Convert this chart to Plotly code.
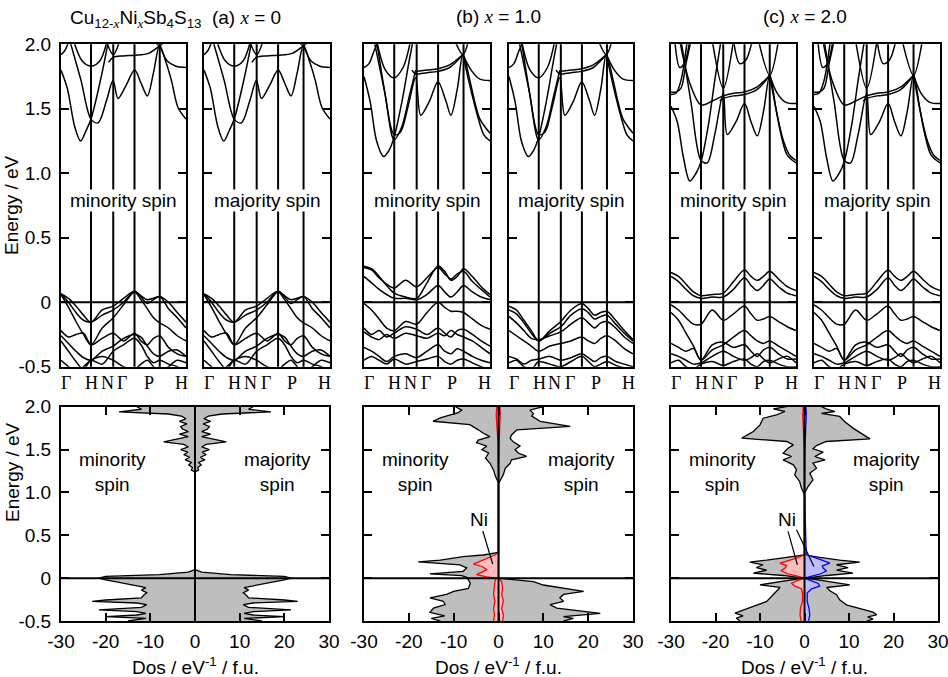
import plotly.graph_objects as go

W, H = 948, 677

# ---------------- band-structure data ----------------
K_SYM = [0.24, 0.418, 0.588, 0.79]                 # interior high-symmetry points
K_LABELS = ["Γ", "H", "N", "Γ", "P", "H"]
K_LABEL_POS = [0.04, 0.245, 0.37, 0.49, 0.70, 0.96]
K_V = [0, 0.06, 0.12, 0.18, 0.24, 0.33, 0.418, 0.5, 0.588, 0.64, 0.69, 0.74, 0.79, 0.86, 0.93, 1.0]

X0_CB = [
    ([0, 0.05, 0.11, 0.157, 0.2, 0.24, 0.32, 0.38], [1.80, 1.66, 1.36, 1.25, 1.33, 1.42, 1.74, 2.03]),
    ([0.07, 0.16, 0.24, 0.296, 0.363, 0.416, 0.456, 0.52, 0.589, 0.64, 0.691, 0.74, 0.789, 0.84, 0.883, 0.936, 1.0],
     [2.03, 1.72, 1.42, 1.39, 1.56, 1.72, 1.58, 1.68, 1.80, 1.70, 1.60, 1.78, 1.99, 1.86, 1.72, 1.51, 1.42]),
    ([0.1, 0.17, 0.24, 0.31, 0.37], [2.03, 1.87, 1.83, 1.87, 2.03]),
    ([0.38, 0.418, 0.5, 0.589, 0.7, 0.79], [1.86, 1.90, 1.91, 1.915, 1.93, 1.99]),
    ([0.79, 0.85, 0.92, 1.0], [1.99, 1.87, 1.83, 1.82]),
    ([0, 0.03, 0.065], [1.92, 1.95, 2.03]),
    ([0.36, 0.418, 0.47], [2.03, 1.92, 2.03]),
    ([0.74, 0.79, 0.83], [2.03, 1.99, 2.03]),
]
X0_VB = [
    [0.065, 0.03, -0.03, -0.10, -0.155, -0.06, -0.03, 0.03, 0.085, 0.05, 0.02, 0.03, 0.045, 0.0, -0.08, -0.155],
    [0.065, 0.0, -0.08, -0.14, -0.155, -0.10, -0.06, 0.0, 0.085, 0.04, -0.01, 0.02, 0.045, -0.05, -0.12, -0.20],
    [0.06, -0.04, -0.15, -0.25, -0.33, -0.20, -0.12, -0.02, 0.08, 0.02, -0.05, -0.12, -0.16, -0.20, -0.26, -0.30],
    [-0.22, -0.27, -0.25, -0.24, -0.33, -0.28, -0.24, -0.30, -0.24, -0.30, -0.33, -0.28, -0.26, -0.35, -0.40, -0.42],
    [-0.26, -0.32, -0.38, -0.43, -0.45, -0.38, -0.34, -0.28, -0.25, -0.27, -0.34, -0.40, -0.42, -0.38, -0.37, -0.42],
    [-0.45, -0.50, -0.55, -0.50, -0.45, -0.42, -0.45, -0.50, -0.52, -0.48, -0.45, -0.50, -0.55, -0.50, -0.45, -0.47],
    [-0.30, -0.38, -0.46, -0.52, -0.45, -0.48, -0.38, -0.33, -0.28, -0.33, -0.42, -0.47, -0.45, -0.48, -0.50, -0.55],
]

X1_CB = [
    ([0, 0.05, 0.1, 0.155, 0.2, 0.239, 0.3, 0.36, 0.39], [1.75, 1.55, 1.25, 1.13, 1.18, 1.28, 1.55, 1.88, 2.03]),
    ([0.08, 0.16, 0.239, 0.29, 0.35, 0.41, 0.45, 0.52, 0.587, 0.65, 0.69, 0.74, 0.785, 0.84, 0.88, 0.92, 1.0],
     [2.03, 1.65, 1.30, 1.32, 1.52, 1.74, 1.45, 1.56, 1.71, 1.56, 1.45, 1.65, 1.92, 1.72, 1.55, 1.42, 1.31]),
    ([0.1, 0.17, 0.239, 0.3, 0.36, 0.41], [2.03, 1.60, 1.26, 1.36, 1.60, 1.80]),
    ([0.785, 0.84, 0.9, 0.95, 1.0], [1.92, 1.68, 1.45, 1.30, 1.25]),
    ([0.1, 0.17, 0.239, 0.31, 0.37], [2.03, 1.80, 1.74, 1.82, 2.03]),
    ([0.38, 0.41, 0.5, 0.587, 0.68, 0.785], [1.80, 1.77, 1.78, 1.79, 1.82, 1.92]),
    ([0.41, 0.5, 0.587, 0.68, 0.785], [1.79, 1.80, 1.81, 1.84, 1.92]),
    ([0.785, 0.85, 0.92, 1.0], [1.92, 1.80, 1.73, 1.72]),
    ([0, 0.04, 0.08, 0.12], [1.82, 1.85, 1.95, 2.03]),
    ([0.72, 0.785, 0.83], [2.03, 1.92, 2.03]),
]
X1_VB_MIN = [
    [0.28, 0.26, 0.20, 0.13, 0.07, 0.04, 0.03, 0.15, 0.28, 0.24, 0.17, 0.20, 0.26, 0.20, 0.12, 0.06],
    [0.27, 0.25, 0.19, 0.14, 0.11, 0.17, 0.12, 0.19, 0.27, 0.22, 0.18, 0.22, 0.24, 0.16, 0.10, 0.04],
    [0.20, 0.15, 0.10, 0.06, 0.03, 0.03, 0.02, 0.06, 0.13, 0.08, 0.04, 0.08, 0.13, 0.08, 0.04, 0.02],
    [-0.01, -0.06, -0.13, -0.20, -0.22, -0.15, -0.17, -0.08, 0.0, -0.04, -0.07, -0.07, -0.08, -0.13, -0.18, -0.21],
    [-0.20, -0.25, -0.22, -0.27, -0.24, -0.19, -0.21, -0.25, -0.20, -0.24, -0.27, -0.22, -0.21, -0.25, -0.30, -0.34],
    [-0.23, -0.27, -0.29, -0.25, -0.28, -0.24, -0.26, -0.28, -0.24, -0.26, -0.22, -0.25, -0.27, -0.30, -0.35, -0.40],
    [-0.35, -0.38, -0.42, -0.46, -0.42, -0.40, -0.43, -0.38, -0.33, -0.38, -0.40, -0.36, -0.38, -0.42, -0.45, -0.47],
    [-0.45, -0.42, -0.45, -0.48, -0.44, -0.48, -0.46, -0.44, -0.42, -0.46, -0.48, -0.45, -0.44, -0.47, -0.50, -0.52],
]
X1_VB_MAJ = [
    [-0.03, -0.06, -0.14, -0.22, -0.30, -0.22, -0.15, -0.06, -0.01, -0.05, -0.10, -0.08, -0.07, -0.14, -0.22, -0.29],
    [-0.06, -0.09, -0.16, -0.24, -0.30, -0.24, -0.19, -0.10, -0.05, -0.08, -0.13, -0.11, -0.10, -0.17, -0.24, -0.30],
    [-0.11, -0.16, -0.22, -0.28, -0.29, -0.26, -0.23, -0.17, -0.12, -0.16, -0.20, -0.16, -0.15, -0.20, -0.27, -0.32],
    [-0.22, -0.26, -0.30, -0.34, -0.38, -0.34, -0.32, -0.30, -0.27, -0.30, -0.32, -0.28, -0.26, -0.30, -0.36, -0.40],
    [-0.42, -0.44, -0.48, -0.45, -0.44, -0.42, -0.45, -0.43, -0.40, -0.43, -0.46, -0.43, -0.42, -0.46, -0.48, -0.50],
    [-0.47, -0.45, -0.50, -0.52, -0.46, -0.48, -0.50, -0.46, -0.42, -0.46, -0.50, -0.48, -0.46, -0.49, -0.51, -0.53],
]

X2_CB = [
    ([0, 0.05, 0.1, 0.15, 0.2, 0.24, 0.3, 0.35, 0.4], [1.52, 1.40, 1.12, 0.94, 1.0, 1.09, 1.38, 1.72, 2.03]),
    ([0.08, 0.16, 0.24, 0.29, 0.35, 0.418, 0.45, 0.52, 0.588, 0.64, 0.69, 0.74, 0.79, 0.84, 0.88, 0.93, 1.0],
     [2.03, 1.55, 1.10, 1.08, 1.30, 1.62, 1.30, 1.40, 1.54, 1.40, 1.29, 1.48, 1.76, 1.50, 1.30, 1.14, 1.08]),
    ([0.79, 0.85, 0.9, 0.95, 1.0], [1.76, 1.45, 1.25, 1.14, 1.10]),
    ([0.07, 0.15, 0.24, 0.33, 0.418, 0.5, 0.588, 0.69, 0.79], [2.03, 1.70, 1.53, 1.56, 1.60, 1.62, 1.63, 1.67, 1.76]),
    ([0.39, 0.418, 0.5, 0.588, 0.69, 0.79], [1.56, 1.58, 1.60, 1.61, 1.65, 1.76]),
    ([0.79, 0.85, 0.92, 1.0], [1.76, 1.62, 1.55, 1.54]),
    ([0, 0.04, 0.08, 0.12, 0.16], [1.63, 1.63, 1.66, 1.85, 2.03]),
    ([0, 0.04, 0.08, 0.13], [1.61, 1.62, 1.72, 2.03]),
    ([0.33, 0.418, 0.5], [2.03, 1.66, 2.03]),
    ([0.7, 0.79, 0.86], [2.03, 1.76, 2.03]),
    ([0.03, 0.07, 0.11, 0.15], [2.03, 1.82, 1.86, 2.03]),
    ([0.5, 0.55, 0.6, 0.65], [2.03, 1.85, 1.88, 2.03]),
]
X2_VB = [
    [0.23, 0.20, 0.14, 0.08, 0.05, 0.06, 0.07, 0.16, 0.25, 0.20, 0.17, 0.20, 0.24, 0.18, 0.12, 0.09],
    [0.20, 0.16, 0.10, 0.05, 0.03, 0.04, 0.04, 0.10, 0.19, 0.13, 0.09, 0.13, 0.18, 0.12, 0.07, 0.05],
    [-0.02, -0.06, -0.12, -0.17, -0.17, -0.06, -0.14, -0.09, -0.03, -0.09, -0.14, -0.13, -0.11, -0.15, -0.19, -0.22],
    [-0.08, -0.14, -0.24, -0.34, -0.45, -0.37, -0.33, -0.27, -0.22, -0.26, -0.30, -0.32, -0.30, -0.34, -0.38, -0.42],
    [-0.32, -0.35, -0.38, -0.36, -0.45, -0.33, -0.31, -0.35, -0.33, -0.38, -0.42, -0.37, -0.35, -0.40, -0.44, -0.44],
    [-0.40, -0.42, -0.45, -0.48, -0.47, -0.42, -0.38, -0.42, -0.45, -0.43, -0.40, -0.44, -0.47, -0.44, -0.42, -0.47],
    [-0.47, -0.45, -0.50, -0.52, -0.48, -0.46, -0.49, -0.46, -0.44, -0.48, -0.50, -0.46, -0.45, -0.48, -0.50, -0.50],
]

# ---------------- density-of-states data ----------------
X0_E = [2.0, 1.97, 1.94, 1.915, 1.89, 1.86, 1.83, 1.80, 1.77, 1.74, 1.71, 1.68, 1.65, 1.62, 1.59, 1.56, 1.53,
        1.50, 1.47, 1.44, 1.41, 1.38, 1.35, 1.32, 1.29, 1.26, 1.24, 0.10, 0.07, 0.04, 0.02, 0.0, -0.02, -0.05,
        -0.08, -0.11, -0.14, -0.17, -0.2, -0.23, -0.255, -0.27, -0.29, -0.31, -0.34, -0.37, -0.39, -0.41, -0.43,
        -0.45, -0.47, -0.5]
X0_DOS = [13, 12, 17, 6, 3, 2, 3.5, 1.8, 3.2, 2.8, 1.5, 3.5, 1.5, 4.0, 7.0, 2.5, 1.5, 3.2, 1.6, 2.5, 1.2, 2.2,
          0.8, 1.4, 0.6, 0.8, 0, 0, 1.5, 8, 20, 21.5, 20, 17, 13.5, 11, 12, 10.8, 11.5, 12, 20, 23, 13, 10.8,
          12, 21.5, 13, 11, 13, 20, 11, 15]

X1_MAJ_E = [2.0, 1.96, 1.92, 1.89, 1.83, 1.77, 1.73, 1.67, 1.63, 1.59, 1.54, 1.50, 1.46, 1.42, 1.38, 1.34,
            1.28, 1.21, 1.13, 1.10, 0.0, -0.02, -0.04, -0.08, -0.12, -0.155, -0.19, -0.23, -0.27, -0.31,
            -0.35, -0.41, -0.45, -0.47, -0.5]
X1_MAJ = [10, 7, 7.8, 7.4, 9.3, 16, 4.1, 2.9, 2.6, 3.3, 4.8, 3.7, 4.4, 6.3, 2.9, 2.6, 1.5, 1.1, 0.3, 0, 0,
          4, 7.8, 10, 14.5, 19, 14.5, 13.7, 14.5, 11.5, 13, 22.7, 14.5, 16.7, 14.5]
X1_MIN_E = [2.0, 1.96, 1.93, 1.87, 1.83, 1.79, 1.73, 1.69, 1.65, 1.61, 1.58, 1.54, 1.50, 1.46, 1.40, 1.34,
            1.26, 1.19, 1.11, 0.30, 0.27, 0.25, 0.21, 0.19, 0.155, 0.12, 0.08, 0.05, 0.03, 0.01, -0.02, -0.06,
            -0.12, -0.155, -0.19, -0.23, -0.27, -0.31, -0.35, -0.40, -0.44, -0.47, -0.5]
X1_MIN = [-9.6, -8.2, -9.0, -13, -14.6, -6.4, -4.5, -3.4, -1.9, -4.5, -4.9, -2.6, -3.7, -2.2, -2.9, -1.9,
          -1.1, -0.7, 0, 0, -3.4, -7.9, -13, -17.9, -8.6, -7.1, -7.9, -15.3, -8.2, -7.1, -6.7, -6.3, -6.7,
          -10, -11.6, -15.3, -12.3, -11.9, -14.5, -15.3, -12, -15, -13]
X1_NI_MIN_E = [2.0, 1.9, 1.8, 1.72, 1.6, 1.2, 0.30, 0.27, 0.23, 0.19, 0.163, 0.136, 0.10, 0.07, 0.04, 0.016,
               0.0, -0.04, -0.12, -0.19, -0.27, -0.35, -0.43, -0.5]
X1_NI_MIN = [-0.4, -0.5, -0.4, -0.3, -0.1, 0, 0, -0.8, -2.6, -4.5, -5.6, -3.7, -2.6, -3.7, -4.9, -2.6, -0.5,
             -0.8, -1.0, -1.1, -0.8, -1.1, -0.9, -1.1]
X1_NI_MAJ_E = [2.0, 1.9, 1.8, 1.7, 1.5, 1.1, 0.0, -0.04, -0.12, -0.19, -0.27, -0.35, -0.43, -0.5]
X1_NI_MAJ = [0.3, 0.4, 0.3, 0.2, 0.1, 0, 0, 0.7, 0.9, 0.7, 1.1, 0.7, 1.1, 0.9]

X2_MAJ_E = [2.0, 1.975, 1.944, 1.921, 1.886, 1.827, 1.75, 1.672, 1.625, 1.594, 1.547, 1.509, 1.47, 1.419,
            1.38, 1.341, 1.283, 1.225, 1.147, 1.069, 0.99, 0.272, 0.241, 0.21, 0.187, 0.156, 0.124, 0.093,
            0.058, 0.031, 0.0, -0.023, -0.054, -0.078, -0.109, -0.148, -0.194, -0.253, -0.311, -0.35, -0.397,
            -0.428, -0.451, -0.478, -0.5]
X2_MAJ = [3.8, 4.9, 6.8, 3.8, 7.9, 9.0, 10.9, 13.2, 14.7, 4.9, 2.7, 1.9, 4.2, 2.3, 4.6, 1.9, 2.7, 1.2, 1.9,
          0.8, 0, 0, 3.4, 7.9, 12.4, 7.2, 9.8, 7.2, 10.9, 5.0, 0.4, 3.4, 7.2, 10.2, 5.0, 5.7, 7.2, 7.9, 9.4,
          12.4, 15.4, 16.2, 14.2, 15.4, 14]
X2_MIN_E = [2.0, 1.975, 1.944, 1.905, 1.866, 1.788, 1.711, 1.633, 1.594, 1.555, 1.516, 1.458, 1.419, 1.38,
            1.322, 1.264, 1.205, 1.128, 1.05, 0.972, 0.272, 0.241, 0.21, 0.187, 0.156, 0.124, 0.093, 0.058,
            0.031, 0.0, -0.023, -0.054, -0.078, -0.109, -0.156, -0.214, -0.272, -0.33, -0.369, -0.408,
            -0.439, -0.467, -0.5]
X2_MIN = [-4, -7, -4.4, -6.3, -9.3, -10, -11.5, -14.1, -4, -2.5, -3.7, -4.8, -2.9, -4.8, -2.5, -1.8, -2.2,
          -1.1, -0.7, 0, 0, -4, -8.5, -12.3, -9.3, -10.8, -8.5, -11.5, -4.8, -0.4, -3.3, -7, -10, -5.5,
          -6.3, -7.4, -8.5, -11.5, -13.8, -15.6, -13.8, -15.3, -14.5]
X2_NI_E = [2.0, 1.9, 1.8, 1.7, 1.5, 1.0, 0.272, 0.233, 0.202, 0.175, 0.144, 0.117, 0.086, 0.054, 0.027, 0.0,
           -0.031, -0.062, -0.093, -0.124, -0.175, -0.272, -0.35, -0.428, -0.5]
X2_NI_MIN = [-0.3, -0.4, -0.3, -0.2, -0.1, 0, 0, -1.8, -4, -5.5, -4, -4.4, -5.2, -4, -1.8, 0, -1.8, -2.9,
             -2.2, -0.7, -0.45, -0.45, -0.9, -1.0, -0.75]
X2_NI_MAJ = [0.3, 0.4, 0.3, 0.2, 0.1, 0, 0.4, 2.7, 4.6, 5.7, 4.0, 4.2, 4.9, 3.8, 1.9, 0, 1.6, 3.1, 3.4, 1.6,
             0.6, 0.6, 1.0, 1.2, 0.9]

E_TICKS = [-0.5, 0, 0.5, 1.0, 1.5, 2.0]
E_TICK_TEXT = ["-0.5", "0", "0.5", "1.0", "1.5", "2.0"]
DOS_TICKS = [-30, -20, -10, 0, 10, 20, 30]
DOS_TICK_TEXT = ["-30", "-20", "-10", "0", "10", "20", "30"]

# ---------------- layout geometry (pixels) ----------------
TOP_X = [(61, 186), (204, 330), (364, 490), (509, 633), (671, 796), (814, 940)]
TOP_Y = (44.3, 366.7)
BOT_X = [(61, 329), (364, 633), (671, 938)]
BOT_Y = (406.7, 621)

SANS = "Liberation Sans, Arial, sans-serif"
SERIF = "Liberation Serif, Times New Roman, serif"
GRAY = "#bebebe"

fig = go.Figure()
layout = dict(width=W, height=H, margin=dict(l=0, r=0, t=0, b=0, pad=0, autoexpand=False),
              paper_bgcolor="white", plot_bgcolor="white", showlegend=False,
              font=dict(family=SANS, size=19, color="black"))
shapes, annotations = [], []


def ann(**kw):
    d = dict(showarrow=False, xanchor="center", yanchor="middle", font=dict(size=19))
    d.update(kw)
    annotations.append(d)


def ax_names(i):
    s = "" if i == 1 else str(i)
    return "x" + s, "y" + s, "xaxis" + s, "yaxis" + s


def frame_axis(dom, rng):
    return dict(domain=dom, range=rng, showgrid=False, zeroline=False, showline=True, mirror=True,
                linecolor="black", linewidth=2, fixedrange=True, automargin=False)


# top band panels
panels_top = [(X0_CB, X0_VB), (X0_CB, X0_VB), (X1_CB, X1_VB_MIN), (X1_CB, X1_VB_MAJ), (X2_CB, X2_VB), (X2_CB, X2_VB)]
spin_text = ["minority spin", "majority spin"] * 3
for n, ((x0, x1), (cb, vb)) in enumerate(zip(TOP_X, panels_top)):
    i = n + 1
    xr, yr, xk, yk = ax_names(i)
    xa = frame_axis([x0 / W, x1 / W], [0, 1])
    xa.update(anchor=yr, ticks="", showticklabels=False)
    ya = frame_axis([1 - TOP_Y[1] / H, 1 - TOP_Y[0] / H], [-0.5, 2.0])
    ya.update(anchor=xr, mirror="ticks", ticks="inside", ticklen=8, tickwidth=2, tickcolor="black",
              tickvals=E_TICKS, ticktext=E_TICK_TEXT, showticklabels=(i == 1), ticklabelstandoff=4)
    layout[xk] = xa
    layout[yk] = ya
    for ks, es in cb:
        fig.add_trace(go.Scatter(x=ks, y=es, mode="lines", xaxis=xr, yaxis=yr, hoverinfo="skip",
                                 line=dict(color="black", width=1.5, shape="spline", smoothing=0.9)))
    for es in vb:
        fig.add_trace(go.Scatter(x=K_V, y=es, mode="lines", xaxis=xr, yaxis=yr, hoverinfo="skip",
                                 line=dict(color="black", width=1.5, shape="spline", smoothing=0.9)))
    for k in K_SYM:
        shapes.append(dict(type="line", xref=xr, yref=yr + " domain", x0=k, x1=k, y0=0, y1=1,
                           line=dict(color="black", width=2)))
    shapes.append(dict(type="line", xref=xr + " domain", yref=yr, x0=0, x1=1, y0=0, y1=0,
                       line=dict(color="black", width=2)))
    ann(text=spin_text[n], xref=xr, yref=yr, x=0.5, y=0.79, bgcolor="white", borderpad=0)
    for pos, lab in zip(K_LABEL_POS, K_LABELS):
        ann(text=lab, xref=xr, yref="paper", x=pos, y=1 - 383 / H, font=dict(family=SERIF, size=18))

# bottom DOS panels
dos_sets = [
    dict(maj=(X0_E, X0_DOS), min=(X0_E, [-v for v in X0_DOS]), ni=[]),
    dict(maj=(X1_MAJ_E, X1_MAJ), min=(X1_MIN_E, X1_MIN),
         ni=[(X1_NI_MIN_E, X1_NI_MIN, "red", "#ffbcbc"), (X1_NI_MAJ_E, X1_NI_MAJ, "red", "#ffbcbc")]),
    dict(maj=(X2_MAJ_E, X2_MAJ), min=(X2_MIN_E, X2_MIN),
         ni=[(X2_NI_E, X2_NI_MIN, "red", "#ffbcbc"), (X2_NI_E, X2_NI_MAJ, "blue", "#bcbcff")]),
]
for n, ((x0, x1), ds) in enumerate(zip(BOT_X, dos_sets)):
    i = n + 7
    xr, yr, xk, yk = ax_names(i)
    xa = frame_axis([x0 / W, x1 / W], [-30, 30])
    xa.update(anchor=yr, mirror="ticks", ticks="inside", ticklen=8, tickwidth=2, tickcolor="black",
              tickvals=DOS_TICKS, ticktext=DOS_TICK_TEXT, tickangle=0, ticklabelstandoff=2,
              ticklabeloverflow="allow")
    ya = frame_axis([1 - BOT_Y[1] / H, 1 - BOT_Y[0] / H], [-0.5, 2.0])
    ya.update(anchor=xr, mirror="ticks", ticks="inside", ticklen=8, tickwidth=2, tickcolor="black",
              tickvals=E_TICKS, ticktext=E_TICK_TEXT, showticklabels=(i == 7), ticklabelstandoff=4)
    layout[xk] = xa
    layout[yk] = ya
    for key in ("min", "maj"):
        es, vs = ds[key]
        fig.add_trace(go.Scatter(x=vs, y=es, mode="lines", fill="tozerox", fillcolor=GRAY,
                                 xaxis=xr, yaxis=yr, hoverinfo="skip",
                                 line=dict(color="black", width=1.3)))
    for es, vs, lc, fc in ds["ni"]:
        fig.add_trace(go.Scatter(x=vs, y=es, mode="lines", fill="tozerox", fillcolor=fc,
                                 xaxis=xr, yaxis=yr, hoverinfo="skip",
                                 line=dict(color=lc, width=1.3)))
    shapes.append(dict(type="line", xref=xr + " domain", yref=yr, x0=0, x1=1, y0=0, y1=0,
                       line=dict(color="black", width=2)))
    shapes.append(dict(type="line", xref=xr, yref=yr + " domain", x0=0, x1=0, y0=0, y1=1,
                       line=dict(color="black", width=2)))
    ann(text="minority<br>spin", xref=xr, yref=yr, x=-18.5, y=1.24)
    ann(text="majority<br>spin", xref=xr, yref=yr, x=18.5, y=1.24)
    ann(text="Dos / eV<sup>-1</sup> / f.u.", xref="paper", yref="paper", x=(x0 + x1) / 2 / W, y=1 - 666 / H)

# Ni labels
ann(text="Ni", xref="x8", yref="y8", x=-4.4, y=0.68)
shapes.append(dict(type="line", xref="x8", yref="y8", x0=-3.5, y0=0.55, x1=-1.3, y1=0.165,
                   line=dict(color="black", width=1.2)))
ann(text="Ni", xref="x9", yref="y9", x=-4.0, y=0.68)
shapes.append(dict(type="line", xref="x9", yref="y9", x0=-3.7, y0=0.545, x1=-1.6, y1=0.156,
                   line=dict(color="black", width=1.2)))
shapes.append(dict(type="line", xref="x9", yref="y9", x0=-1.8, y0=0.565, x1=2.1, y1=0.136,
                   line=dict(color="black", width=1.2)))

# axis titles
for yc in (205, 472):
    ann(text="Energy / eV", xref="paper", yref="paper", x=12 / W, y=1 - yc / H, textangle=-90)

XI = "<span style='font-family:Liberation Serif'><i>x</i></span>"
ann(text="Cu<sub>12-" + XI + "</sub>Ni<sub>" + XI + "</sub>Sb<sub>4</sub>S<sub>13</sub>  (a) " + XI + " = 0",
    xref="paper", yref="paper", x=68 / W, y=1 - 19 / H, xanchor="left")
ann(text="(b) " + XI + " = 1.0", xref="paper", yref="paper", x=498 / W, y=1 - 17 / H)
ann(text="(c) " + XI + " = 2.0", xref="paper", yref="paper", x=805 / W, y=1 - 17 / H)

layout["shapes"] = shapes
layout["annotations"] = annotations
fig.update_layout(**layout)
fig.write_html("out.html")
